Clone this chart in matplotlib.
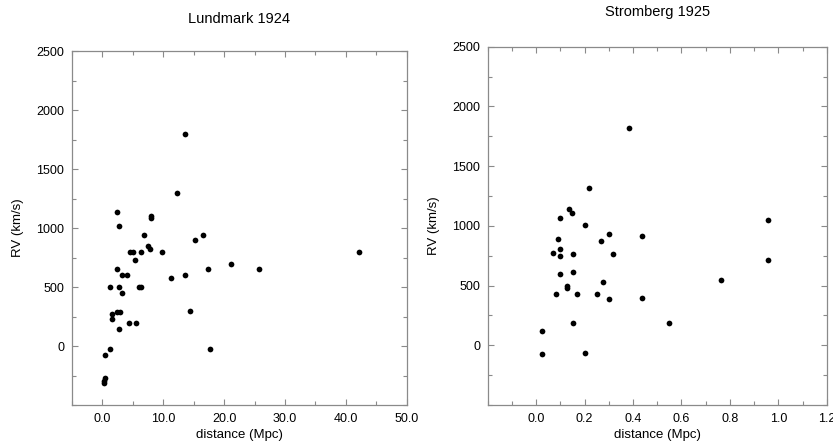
import numpy as np
import matplotlib
matplotlib.use("Agg")
import matplotlib.pyplot as plt
from matplotlib.ticker import FixedLocator, MultipleLocator, FormatStrFormatter

plt.rcParams['font.family'] = ['Liberation Sans', 'DejaVu Sans']

# Lundmark 1924: distance (Mpc), radial velocity (km/s)
lund_dist = [13.6, 12.3, 2.4, 2.8, 8.0, 8.0, 6.8, 15.2, 16.5,
             7.45, 7.8, 4.5, 5.0, 6.4, 9.8, 42.1, 5.4, 2.4, 3.2, 4.0,
             13.6, 11.2, 21.1, 17.4, 25.8, 1.3, 2.8, 6.0, 6.4, 3.2,
             14.4, 1.6, 1.6, 2.4, 2.9, 2.65, 4.45, 5.6, 17.6, 1.2,
             0.5, 0.5, 0.2, 0.2]
lund_rv = [1800, 1300, 1140, 1020, 1100, 1090, 940, 900, 940,
           850, 825, 800, 800, 800, 800, 800, 730, 650, 600, 600,
           600, 580, 700, 650, 650, 500, 500, 500, 500, 450,
           300, 270, 230, 290, 290, 150, 200, 200, -25, -25,
           -70, -267, -295, -315]

# Stromberg 1925
strom_dist = [0.383, 0.220, 0.135, 0.146, 0.100, 0.201, 0.957, 0.092, 0.266,
              0.302, 0.438, 0.069, 0.098, 0.100, 0.154, 0.318, 0.957, 0.100,
              0.154, 0.276, 0.762, 0.128, 0.128, 0.080, 0.167, 0.252, 0.302,
              0.438, 0.154, 0.550, 0.023, 0.023, 0.200]
strom_rv = [1820, 1315, 1142, 1110, 1070, 1010, 1045, 886, 874,
            930, 911, 775, 807, 751, 761, 761, 714, 597,
            615, 534, 547, 500, 480, 431, 433, 433, 386,
            400, 186, 186, 117, -75, -61]

fig = plt.figure(figsize=(8.33, 4.44), dpi=100)
ax1 = fig.add_axes([0.0864, 0.0872, 0.4018, 0.7979])
ax2 = fig.add_axes([0.5855, 0.0878, 0.4070, 0.8070])

frame = '#8a8a8a'


def style(ax, title, xmajor, xminor, tpad):
    for sp in ax.spines.values():
        sp.set_color(frame)
        sp.set_linewidth(0.9)
    ax.yaxis.set_major_locator(FixedLocator(np.arange(0, 2501, 500)))
    ax.yaxis.set_minor_locator(MultipleLocator(250))
    ax.xaxis.set_major_locator(FixedLocator(xmajor))
    ax.xaxis.set_minor_locator(MultipleLocator(xminor))
    ax.xaxis.set_major_formatter(FormatStrFormatter('%.1f'))
    ax.tick_params(which='both', direction='in', top=True, right=True,
                   color=frame, labelsize=9, pad=5.5)
    ax.tick_params(which='major', length=4, width=0.8)
    ax.tick_params(which='minor', length=3, width=0.8)
    ax.set_xlabel('distance (Mpc)', fontsize=9.5, labelpad=3)
    ax.set_ylabel('RV (km/s)', fontsize=9.5, labelpad=9)
    ax.set_title(title, fontsize=10.5, pad=tpad)


ax1.scatter(lund_dist, lund_rv, s=17, color='black', linewidths=0)
ax1.set_xlim(-5, 50)
ax1.set_ylim(-500, 2500)
style(ax1, 'Lundmark 1924', np.arange(0, 51, 10), 5, 20.5)

ax2.scatter(strom_dist, strom_rv, s=17, color='black', linewidths=0)
ax2.set_xlim(-0.2, 1.2)
ax2.set_ylim(-500, 2500)
style(ax2, 'Stromberg 1925', np.arange(0, 1.21, 0.2), 0.1, 22)

fig.savefig('out.png', dpi=100)
